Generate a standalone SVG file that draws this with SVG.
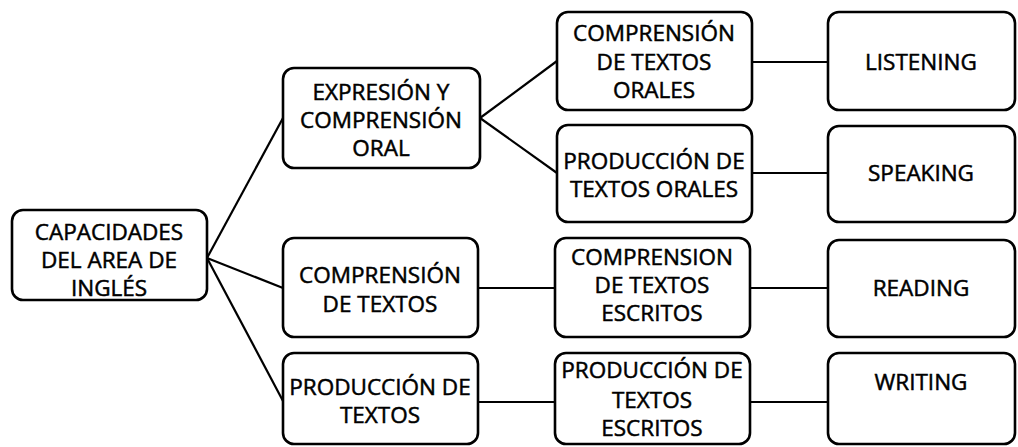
<svg xmlns="http://www.w3.org/2000/svg" width="1018" height="447" viewBox="0 0 1018 447">
<style>
.box{fill:#fff;stroke:#000;stroke-width:2.6}
.t{font-family:"Open Sans","Liberation Sans",sans-serif;font-size:22.5px;fill:#000;text-anchor:middle;stroke:#000;stroke-width:0.5}
.c{stroke:#000;stroke-width:2.2;fill:none}
</style>
<rect width="1018" height="447" fill="#fff"/>
<g id="connectors">
<line class="c" x1="207" y1="258" x2="283" y2="118"/>
<line class="c" x1="207" y1="258" x2="283" y2="288"/>
<line class="c" x1="207" y1="258" x2="283" y2="401"/>
<line class="c" x1="480" y1="118" x2="557" y2="61"/>
<line class="c" x1="480" y1="118" x2="557" y2="173"/>
<line class="c" x1="478" y1="288" x2="555" y2="288"/>
<line class="c" x1="478" y1="402" x2="555" y2="402"/>
<line class="c" x1="752" y1="62" x2="828" y2="62"/>
<line class="c" x1="752" y1="173" x2="828" y2="173"/>
<line class="c" x1="750" y1="288" x2="828" y2="288"/>
<line class="c" x1="750" y1="402" x2="828" y2="402"/>
</g>
<g id="root">
<rect class="box" x="12" y="210" width="195" height="90" rx="11"/>
<text class="t" x="109" y="240">CAPACIDADES</text>
<text class="t" x="109" y="268">DEL AREA DE</text>
<text class="t" x="109" y="296">INGLÉS</text>
</g>
<g id="expresion">
<rect class="box" x="283" y="68" width="197" height="100" rx="11"/>
<text class="t" x="381" y="100">EXPRESIÓN Y</text>
<text class="t" x="381" y="128">COMPRENSIÓN</text>
<text class="t" x="381" y="156">ORAL</text>
</g>
<g id="comp-textos">
<rect class="box" x="283" y="238" width="195" height="99" rx="11"/>
<text class="t" x="380" y="283">COMPRENSIÓN</text>
<text class="t" x="380" y="312">DE TEXTOS</text>
</g>
<g id="prod-textos">
<rect class="box" x="283" y="353" width="195" height="91" rx="11"/>
<text class="t" x="380" y="395">PRODUCCIÓN DE</text>
<text class="t" x="380" y="423">TEXTOS</text>
</g>
<g id="comp-orales">
<rect class="box" x="557" y="12" width="195" height="98" rx="11"/>
<text class="t" x="654" y="41">COMPRENSIÓN</text>
<text class="t" x="654" y="70">DE TEXTOS</text>
<text class="t" x="654" y="98">ORALES</text>
</g>
<g id="prod-orales">
<rect class="box" x="557" y="125" width="195" height="97" rx="11"/>
<text class="t" x="654" y="169">PRODUCCIÓN DE</text>
<text class="t" x="654" y="197">TEXTOS ORALES</text>
</g>
<g id="comp-escritos">
<rect class="box" x="555" y="238" width="195" height="99" rx="11"/>
<text class="t" x="652" y="265">COMPRENSION</text>
<text class="t" x="652" y="293">DE TEXTOS</text>
<text class="t" x="652" y="321">ESCRITOS</text>
</g>
<g id="prod-escritos">
<rect class="box" x="555" y="353" width="195" height="91" rx="11"/>
<text class="t" x="652" y="378">PRODUCCIÓN DE</text>
<text class="t" x="652" y="408">TEXTOS</text>
<text class="t" x="652" y="436">ESCRITOS</text>
</g>
<g id="listening">
<rect class="box" x="828" y="12" width="187" height="98" rx="11"/>
<text class="t" x="921" y="70">LISTENING</text>
</g>
<g id="speaking">
<rect class="box" x="828" y="126" width="187" height="96" rx="11"/>
<text class="t" x="921" y="181">SPEAKING</text>
</g>
<g id="reading">
<rect class="box" x="828" y="240" width="187" height="97" rx="11"/>
<text class="t" x="921" y="296">READING</text>
</g>
<g id="writing">
<rect class="box" x="828" y="353" width="187" height="91" rx="11"/>
<text class="t" x="921" y="390">WRITING</text>
</g>
</svg>
